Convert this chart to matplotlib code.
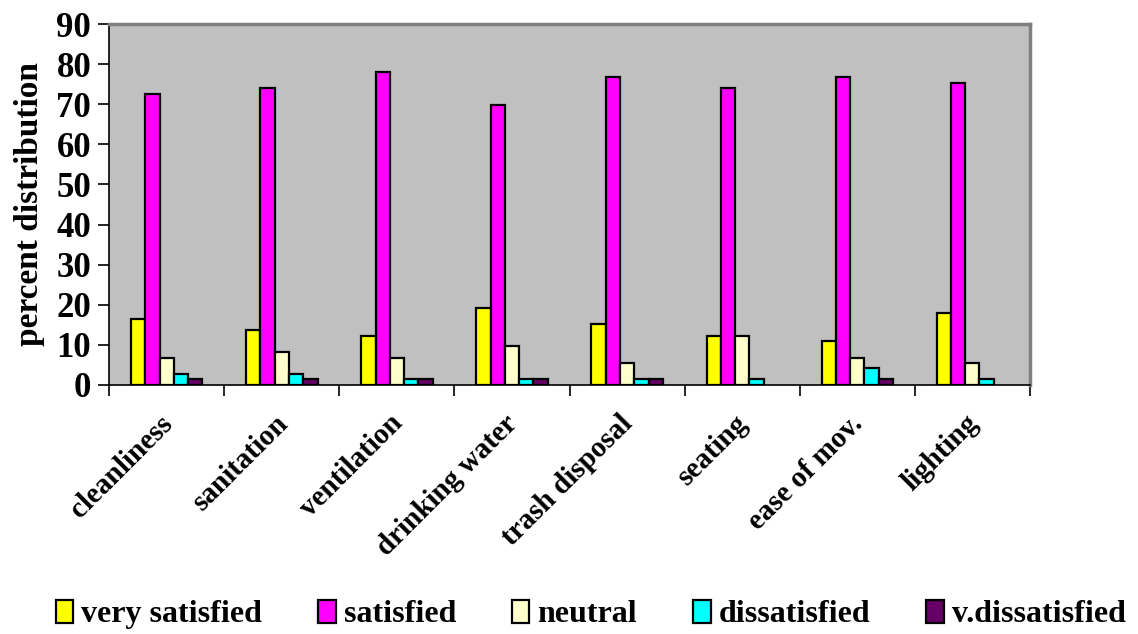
import numpy as np
import matplotlib
matplotlib.use("Agg")
import matplotlib.pyplot as plt
import matplotlib.transforms as mtransforms

# percent distribution per facility
categories = ["cleanliness", "sanitation", "ventilation", "drinking water",
              "trash disposal", "seating", "ease of mov.", "lighting"]
very_satisfied = [16.4, 13.7, 12.3, 19.2, 15.1, 12.3, 11.0, 17.8]
satisfied = [72.6, 74.0, 78.1, 69.9, 76.7, 74.0, 76.7, 75.3]
neutral = [6.8, 8.2, 6.8, 9.6, 5.5, 12.3, 6.8, 5.5]
dissatisfied = [2.7, 2.7, 1.4, 1.4, 1.4, 1.4, 4.1, 1.4]
v_dissatisfied = [1.4, 1.4, 1.4, 1.4, 1.4, 0.0, 1.4, 0.0]

series = [very_satisfied, satisfied, neutral, dissatisfied, v_dissatisfied]
names = ["very satisfied", "satisfied", "neutral", "dissatisfied", "v.dissatisfied"]
colors = ["#FFFF00", "#FF00FF", "#FFFFCC", "#00FFFF", "#660066"]

plt.rcParams['font.family'] = ['Liberation Serif', 'DejaVu Serif']
plt.rcParams['font.weight'] = 'bold'
plt.rcParams['axes.labelweight'] = 'bold'

fig = plt.figure(figsize=(11.38, 6.34), dpi=100)
ax = fig.add_axes([0.096, 0.393, 0.809, 0.569])
ax.set_facecolor("#C0C0C0")

x = np.arange(len(categories))
w = 0.124
for i, (vals, nm, c) in enumerate(zip(series, names, colors)):
    lw = [1.6 if v > 0 else 0 for v in vals]
    ax.bar(x + (i - 2) * w, vals, w, color=c, edgecolor="black",
           linewidth=lw, label=nm, zorder=3)

ax.set_xlim(-0.5, len(categories) - 0.5)
ax.set_ylim(0, 90)
ax.set_yticks(range(0, 91, 10))
ax.tick_params(axis='y', labelsize=25, length=8, width=1.2, direction='out', pad=5)

# category labels at group centres, ticks at group boundaries
ax.set_xticks(x)
ax.set_xticklabels(categories, rotation=45, ha='right', va='top',
                   rotation_mode='anchor', fontsize=21)
ax.tick_params(axis='x', which='major', length=0, pad=18)
shift = mtransforms.ScaledTranslation(-8 / 100, 0, fig.dpi_scale_trans)
for lab in ax.get_xticklabels():
    lab.set_transform(lab.get_transform() + shift)
ax.set_xticks(np.arange(-0.5, len(categories), 1.0), minor=True)
ax.tick_params(axis='x', which='minor', length=8, width=1.2, direction='out')

for s in ['top', 'right']:
    ax.spines[s].set_color("#808080")
    ax.spines[s].set_linewidth(2.5)
for s in ['left', 'bottom']:
    ax.spines[s].set_color("black")
    ax.spines[s].set_linewidth(1.2)

ax.set_ylabel("percent distribution", fontsize=24, labelpad=8)

fig.legend(loc='lower left', ncol=5, mode='expand',
           bbox_to_anchor=(0.035, -0.018, 0.968, 0.06), frameon=False,
           fontsize=23, handlelength=0.55, handleheight=0.75,
           handletextpad=0.25, borderaxespad=0.1)

fig.savefig("out.png", dpi=100)
